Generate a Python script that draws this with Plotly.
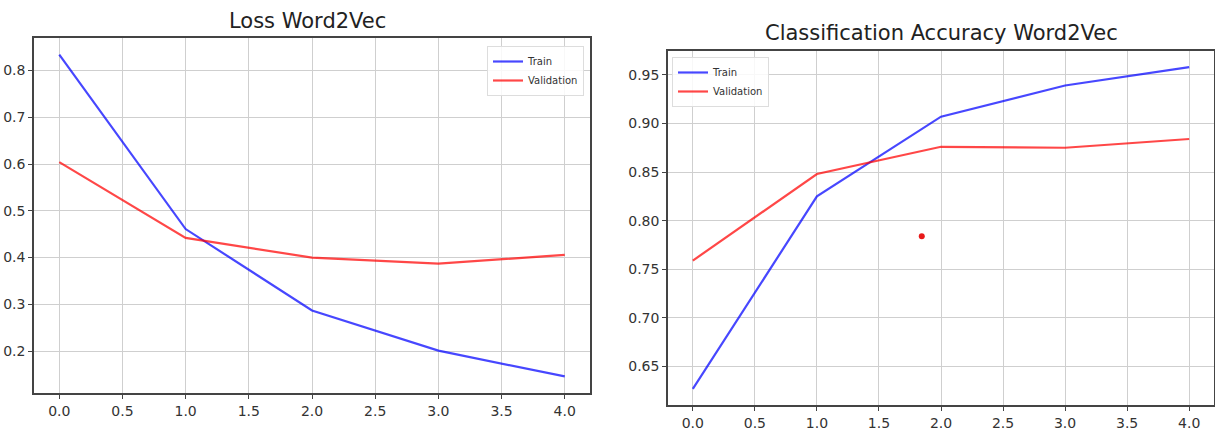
import plotly.graph_objects as go

epochs = [0, 1, 2, 3, 4]
loss_train = [0.834, 0.461, 0.287, 0.201, 0.146]
loss_val = [0.604, 0.442, 0.400, 0.387, 0.406]
acc_train = [0.627, 0.825, 0.907, 0.939, 0.958]
acc_val = [0.759, 0.848, 0.876, 0.875, 0.884]
stray_x = [1.845]
stray_y = [0.784]
x_ticks = [0.0, 0.5, 1.0, 1.5, 2.0, 2.5, 3.0, 3.5, 4.0]
loss_ticks = [0.2, 0.3, 0.4, 0.5, 0.6, 0.7, 0.8]
acc_ticks = [0.65, 0.70, 0.75, 0.80, 0.85, 0.90, 0.95]

W, H = 1215, 437
FONT = "DejaVu Sans, sans-serif"
BLUE = "rgba(0,0,255,0.72)"
RED = "rgba(255,0,0,0.72)"

fig = go.Figure()
fig.add_trace(go.Scatter(x=epochs, y=loss_train, mode="lines", name="Train",
                         line=dict(color=BLUE, width=2.2), xaxis="x", yaxis="y", legend="legend"))
fig.add_trace(go.Scatter(x=epochs, y=loss_val, mode="lines", name="Validation",
                         line=dict(color=RED, width=2.2), xaxis="x", yaxis="y", legend="legend"))
fig.add_trace(go.Scatter(x=epochs, y=acc_train, mode="lines", name="Train",
                         line=dict(color=BLUE, width=2.2), xaxis="x2", yaxis="y2", legend="legend2"))
fig.add_trace(go.Scatter(x=epochs, y=acc_val, mode="lines", name="Validation",
                         line=dict(color=RED, width=2.2), xaxis="x2", yaxis="y2", legend="legend2"))
fig.add_trace(go.Scatter(x=stray_x, y=stray_y, mode="markers", showlegend=False,
                         marker=dict(color="rgba(230,0,0,0.9)", size=6), xaxis="x2", yaxis="y2"))

axis_common = dict(showgrid=True, gridcolor="#cfcfcf", gridwidth=1, showline=True, mirror=True,
                   linecolor="#444444", linewidth=1.5, ticks="outside", ticklen=4, tickcolor="#444444",
                   zeroline=False, tickfont=dict(family=FONT, size=14, color="#333333"))

def px_x(a, b):
    return [a / W, b / W]

def px_y(top, bottom):
    return [1 - bottom / H, 1 - top / H]

fig.update_layout(
    width=W, height=H, margin=dict(l=0, r=0, t=0, b=0),
    paper_bgcolor="white", plot_bgcolor="white",
    xaxis=dict(domain=px_x(34, 590), range=[-0.2, 4.2], tickvals=x_ticks,
               ticktext=[f"{v:.1f}" for v in x_ticks], anchor="y", **axis_common),
    yaxis=dict(domain=px_y(38, 393), range=[0.1105, 0.8695], tickvals=loss_ticks,
               ticktext=[f"{v:.1f}" for v in loss_ticks], anchor="x", **axis_common),
    xaxis2=dict(domain=px_x(668, 1214), range=[-0.2, 4.2], tickvals=x_ticks,
                ticktext=[f"{v:.1f}" for v in x_ticks], anchor="y2", **axis_common),
    yaxis2=dict(domain=px_y(51, 405), range=[0.6105, 0.9745], tickvals=acc_ticks,
                ticktext=[f"{v:.2f}" for v in acc_ticks], anchor="x2", **axis_common),
    legend=dict(x=584 / W, y=1 - 46 / H, xanchor="right", yanchor="top",
                bgcolor="rgba(255,255,255,0.85)", bordercolor="#dddddd", borderwidth=1,
                font=dict(family=FONT, size=10, color="#333333"), itemwidth=30, tracegroupgap=0),
    legend2=dict(x=672 / W, y=1 - 57 / H, xanchor="left", yanchor="top",
                 bgcolor="rgba(255,255,255,0.85)", bordercolor="#dddddd", borderwidth=1,
                 font=dict(family=FONT, size=10, color="#333333"), itemwidth=30, tracegroupgap=0),
    annotations=[
        dict(text="Loss Word2Vec", x=307 / W, y=1 - 21 / H, xref="paper", yref="paper",
             xanchor="center", yanchor="middle", showarrow=False,
             font=dict(family=FONT, size=21, color="#222222")),
        dict(text="Classification Accuracy Word2Vec", x=941 / W, y=1 - 33 / H, xref="paper", yref="paper",
             xanchor="center", yanchor="middle", showarrow=False,
             font=dict(family=FONT, size=21, color="#222222")),
    ],
)

fig.write_html("out.html", config={"displayModeBar": False},
               post_script="document.body.style.margin='0';")
